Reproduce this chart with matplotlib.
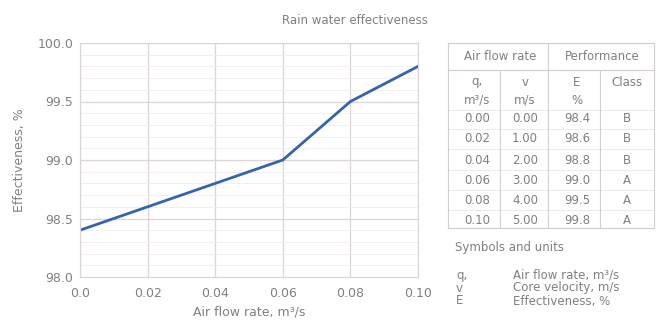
import numpy as np
import matplotlib.pyplot as plt
from matplotlib.lines import Line2D

q = [0.00, 0.02, 0.04, 0.06, 0.08, 0.10]
v = [0.00, 1.00, 2.00, 3.00, 4.00, 5.00]
eff = [98.4, 98.6, 98.8, 99.0, 99.5, 99.8]
cls = ['B', 'B', 'B', 'A', 'A', 'A']
symbols = ['q,', 'v', 'E']
meanings = ['Air flow rate, m³/s', 'Core velocity, m/s', 'Effectiveness, %']

W, H = 663, 325
txt = '#808080'
grid = '#ddd5d3'
plt.rcParams['font.family'] = ['DejaVu Sans']

fig = plt.figure(figsize=(W / 100, H / 100), dpi=100)


def fx(x):
    return x / W


def fy(y):
    return 1 - y / H


ax = fig.add_axes([fx(80), fy(277), fx(418 - 80), (277 - 43) / H])
ax.plot(q, eff, color='#3563ad', lw=2)
ax.set_xlim(0, 0.1)
ax.set_ylim(98.0, 100.0)
ax.set_xticks([0, 0.02, 0.04, 0.06, 0.08, 0.10])
ax.set_xticklabels(['0.0', '0.02', '0.04', '0.06', '0.08', '0.10'])
ax.set_yticks([98.0, 98.5, 99.0, 99.5, 100.0])
ax.set_yticklabels(['98.0', '98.5', '99.0', '99.5', '100.0'])
ax.set_yticks(np.arange(98.0, 100.0, 0.1), minor=True)
ax.grid(True, which='major', color=grid, lw=0.9)
ax.grid(True, which='minor', axis='y', color='#f0ecec', lw=0.6)
ax.tick_params(which='both', length=0, colors=txt, labelsize=9)
ax.tick_params(axis='x', pad=7)
ax.tick_params(axis='y', pad=5)
for s in ax.spines.values():
    s.set_color(grid)
ax.set_xlabel('Air flow rate, m³/s', color=txt, fontsize=9, labelpad=4)
ax.set_ylabel('Effectiveness, %', color=txt, fontsize=9, labelpad=8)
fig.text(fx(355), fy(20), 'Rain water effectiveness', color=txt, fontsize=8.5,
         ha='center', va='center')

# table
line_c = '#d3cecc'


def hline(y, x0=448, x1=654, lw=0.8, c=line_c):
    fig.add_artist(Line2D([fx(x0), fx(x1)], [fy(y), fy(y)], color=c, lw=lw))


def vline(x, y0, y1, lw=0.8):
    fig.add_artist(Line2D([fx(x), fx(x)], [fy(y0), fy(y1)], color=line_c, lw=lw))


hline(43)
hline(70)
hline(228)
for y in [110, 129, 149, 170, 190, 210]:
    hline(y, c='#ebe7e6', lw=0.6)
vline(448, 43, 228)
vline(654, 43, 228)
vline(500, 70, 228)
vline(548, 43, 228)
vline(600, 70, 228)

fs = 8.5
fig.text(fx(500), fy(57), 'Air flow rate', color=txt, fontsize=fs, ha='center', va='center')
fig.text(fx(602), fy(57), 'Performance', color=txt, fontsize=fs, ha='center', va='center')
cols = [477, 525, 577, 627]
heads = [('q,', 'm³/s'), ('v', 'm/s'), ('E', '%'), ('Class', '')]
for x, (a, b) in zip(cols, heads):
    fig.text(fx(x), fy(82), a, color=txt, fontsize=fs, ha='center', va='center')
    fig.text(fx(x), fy(100), b, color=txt, fontsize=fs, ha='center', va='center')

row_y = [119, 139, 160, 180, 200, 220]
for i, y in enumerate(row_y):
    vals = [f'{q[i]:.2f}', f'{v[i]:.2f}', f'{eff[i]:.1f}', cls[i]]
    for x, s in zip(cols, vals):
        fig.text(fx(x), fy(y), s, color=txt, fontsize=fs, ha='center', va='center')

fig.text(fx(455), fy(248), 'Symbols and units', color=txt, fontsize=fs, ha='left', va='center')
for i, (s, m) in enumerate(zip(symbols, meanings)):
    y = 275 + 13 * i
    fig.text(fx(456), fy(y), s, color=txt, fontsize=fs, ha='left', va='center')
    fig.text(fx(513), fy(y), m, color=txt, fontsize=fs, ha='left', va='center')

fig.savefig('out.png', dpi=100)
